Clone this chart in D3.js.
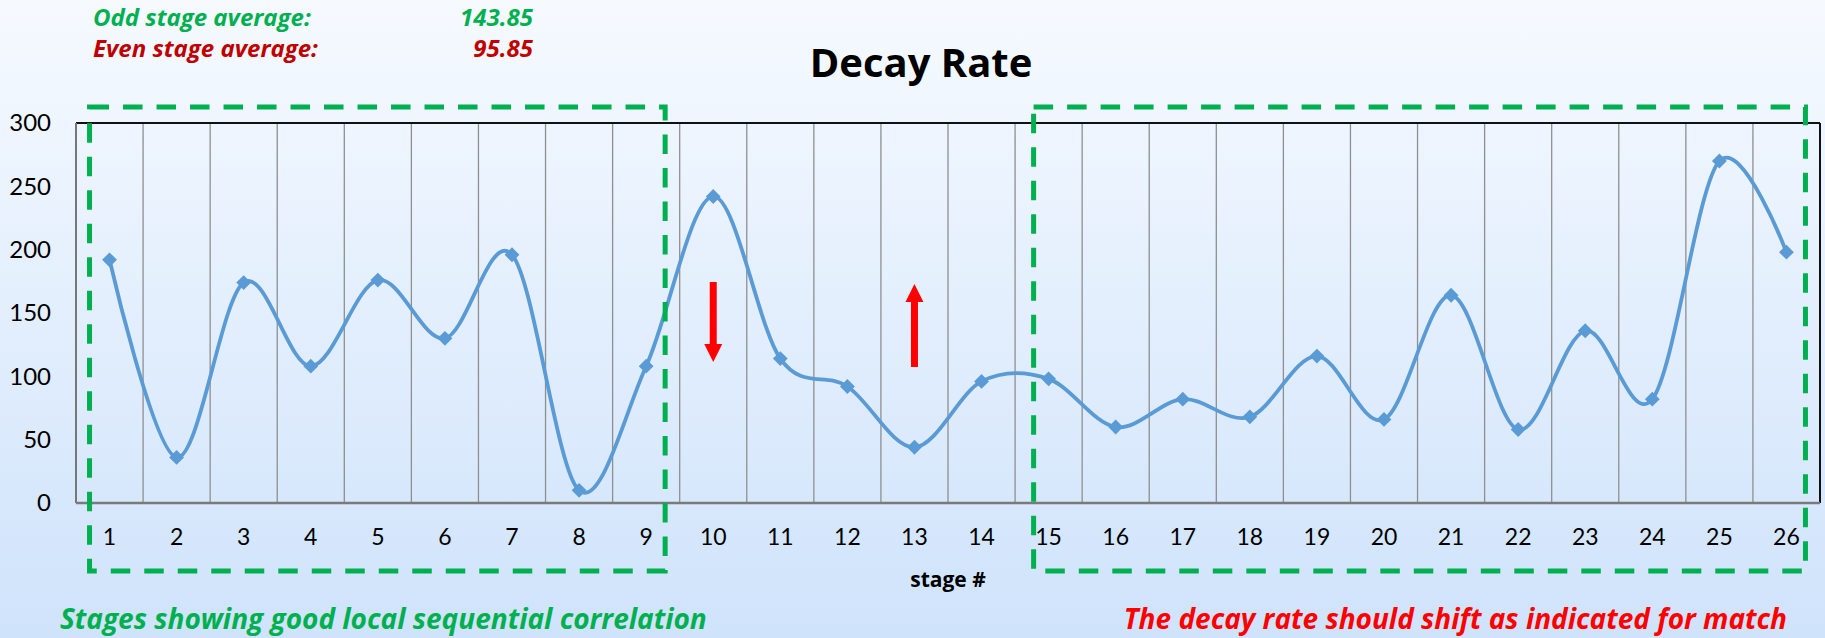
<!DOCTYPE html>
<html>
<head>
<meta charset="utf-8">
<script src="https://cdn.jsdelivr.net/npm/d3@7"></script>
<style>
    html, body { margin: 0; padding: 0; overflow: hidden; }
    svg { display: block; font-family: "Open Sans", Lato, sans-serif; }
</style>
</head>
<body>
<svg id="chart"></svg>
<script>
// stage numbers and decay rate per stage
const stages = d3.range(1, 27)
const decayRate = [192, 36, 174, 108, 176, 130, 196, 10, 108, 242, 114, 92, 44,
    96, 98, 60, 82, 68, 116, 66, 164, 58, 136, 82, 270, 198]
const yTicks = [0, 50, 100, 150, 200, 250, 300]

// annotation content
const summaryLabels = ["Odd stage average:", "Even stage average:"]
const summaryValues = ["143.85", "95.85"]
const boxRanges = [[1, 9], [15, 26]]
const shiftArrows = [{ stage: 10, dir: "down" }, { stage: 13, dir: "up" }]
const noteLeft = "Stages showing good local sequential correlation"
const noteRight = "The decay rate should shift as indicated for match"

let DecayChart = function () {
    this.width = 1825
    this.height = 638
    this.margin = { top: 123, right: 5, bottom: 135, left: 76 }

    this.svg = d3.select("#chart")
        .attr("width", this.width)
        .attr("height", this.height)

    this.setLayout()
    this.setScales()
    this.draw()
}

DecayChart.prototype.setLayout = function () {
    this.layout = {
        lineColor: "#5B9BD5",
        lineWidth: 3.8,
        gridColor: "#8f8f8f",
        green: "#00B050",
        darkRed: "#C00000",
        red: "#FF0000",
        textColor: "#000",
    }
}

DecayChart.prototype.setScales = function () {
    const m = this.margin
    this.x = d3.scaleBand()
        .domain(stages)
        .range([m.left, this.width - m.right])
    this.y = d3.scaleLinear()
        .domain([0, 300])
        .range([this.height - m.bottom, m.top])
}

DecayChart.prototype.cx = function (s) {
    return this.x(s) + this.x.bandwidth() / 2
}

DecayChart.prototype.draw = function () {
    this.addBackground()
    this.addGrid()
    this.addAxes()
    this.addLine()
    this.addTexts()
    this.addBoxes()
    this.addArrows()
}

DecayChart.prototype.addBackground = function () {
    const grad = this.svg.append("defs").append("linearGradient")
        .attr("id", "bgGrad")
        .attr("x1", 0).attr("y1", 0).attr("x2", 0).attr("y2", 1)
    grad.append("stop").attr("offset", "0%").attr("stop-color", "#F6FAFF")
    grad.append("stop").attr("offset", "100%").attr("stop-color", "#CFE3FB")

    this.svg.append("rect")
        .attr("width", this.width)
        .attr("height", this.height)
        .attr("fill", "url(#bgGrad)")
}

DecayChart.prototype.addGrid = function () {
    const [y0, y1] = this.y.range()
    this.svg.append("g")
        .selectAll("line")
        .data(stages.slice(1))
        .join("line")
        .attr("x1", d => this.x(d))
        .attr("x2", d => this.x(d))
        .attr("y1", y0)
        .attr("y2", y1)
        .attr("stroke", this.layout.gridColor)
        .attr("stroke-width", 1.3)
}

DecayChart.prototype.addAxes = function () {
    const [xl, xr] = this.x.range()
    const [yb, yt] = this.y.range()

    // frame
    this.svg.append("line")
        .attr("x1", xl).attr("x2", xr).attr("y1", yt).attr("y2", yt)
        .attr("stroke", "#111").attr("stroke-width", 2)
    this.svg.append("line")
        .attr("x1", xr).attr("x2", xr).attr("y1", yt).attr("y2", yb)
        .attr("stroke", "#111").attr("stroke-width", 2)
    this.svg.append("line")
        .attr("x1", xl).attr("x2", xl).attr("y1", yt).attr("y2", yb)
        .attr("stroke", "#777").attr("stroke-width", 2)
    this.svg.append("line")
        .attr("x1", xl).attr("x2", xr).attr("y1", yb).attr("y2", yb)
        .attr("stroke", "#7a7a7a").attr("stroke-width", 2.5)

    const yAxis = this.svg.append("g")
        .attr("transform", `translate(${xl - 25},0)`)
        .call(d3.axisLeft(this.y).tickValues(yTicks).tickSize(0).tickPadding(0))
    yAxis.select(".domain").remove()
    yAxis.selectAll("text")
        .attr("font-family", "Lato, sans-serif")
        .attr("font-size", 24)
        .attr("fill", this.layout.textColor)

    const xAxis = this.svg.append("g")
        .attr("transform", `translate(0,${yb})`)
        .call(d3.axisBottom(this.x).tickSize(0).tickPadding(26))
    xAxis.select(".domain").remove()
    xAxis.selectAll("text")
        .attr("font-family", "Lato, sans-serif")
        .attr("font-size", 23)
        .attr("fill", this.layout.textColor)

    this.svg.append("text")
        .attr("x", (xl + xr) / 2)
        .attr("y", 587)
        .attr("text-anchor", "middle")
        .attr("font-size", 21)
        .attr("font-weight", "bold")
        .text("stage #")
}

DecayChart.prototype.addLine = function () {
    const points = stages.map((s, i) => [this.cx(s), this.y(decayRate[i])])

    const line = d3.line().curve(d3.curveCatmullRom.alpha(0))
    this.svg.append("path")
        .attr("d", line(points))
        .attr("fill", "none")
        .attr("stroke", this.layout.lineColor)
        .attr("stroke-width", this.layout.lineWidth)

    const diamond = d3.symbol(d3.symbolSquare, 110)
    this.svg.append("g")
        .selectAll("path")
        .data(points)
        .join("path")
        .attr("d", diamond)
        .attr("transform", d => `translate(${d[0]},${d[1]}) rotate(45)`)
        .attr("fill", this.layout.lineColor)
}

DecayChart.prototype.addTexts = function () {
    const L = this.layout
    this.svg.append("text")
        .attr("x", 921).attr("y", 77)
        .attr("text-anchor", "middle")
        .attr("font-size", 40)
        .attr("font-weight", "bold")
        .text("Decay Rate")

    const colors = [L.green, L.darkRed]
    const rows = this.svg.append("g")
        .selectAll("g")
        .data(summaryLabels)
        .join("g")
        .attr("transform", (d, i) => `translate(0,${26 + i * 31})`)
        .attr("font-size", 24)
        .attr("font-weight", "bold")
        .attr("font-style", "italic")
        .attr("fill", (d, i) => colors[i])
    rows.append("text").attr("x", 93).text(d => d)
    rows.append("text").attr("x", 533).attr("text-anchor", "end")
        .text((d, i) => summaryValues[i])

    // bottom notes, kept just above the lower edge
    this.svg.append("text")
        .attr("x", 60).attr("y", 629)
        .attr("font-size", 28)
        .attr("font-weight", "bold")
        .attr("font-style", "italic")
        .attr("fill", L.green)
        .text(noteLeft)
    this.svg.append("text")
        .attr("x", 1787).attr("y", 629)
        .attr("text-anchor", "end")
        .attr("font-size", 28)
        .attr("font-weight", "bold")
        .attr("font-style", "italic")
        .attr("fill", L.red)
        .text(noteRight)
}

DecayChart.prototype.addBoxes = function () {
    const pad = [[20, 19], [15, 19]]
    this.svg.append("g")
        .selectAll("rect")
        .data(boxRanges)
        .join("rect")
        .attr("x", (d, i) => this.cx(d[0]) - pad[i][0])
        .attr("width", (d, i) => this.cx(d[1]) + pad[i][1] - this.cx(d[0]) + pad[i][0])
        .attr("y", 107)
        .attr("height", 464)
        .attr("fill", "none")
        .attr("stroke", this.layout.green)
        .attr("stroke-width", 5)
        .attr("stroke-dasharray", "19.5,14")
}

DecayChart.prototype.addArrows = function () {
    const red = this.layout.red
    const g = this.svg.append("g")
    shiftArrows.forEach(a => {
        const x = this.cx(a.stage)
        const top = a.dir === "down" ? 282 : 284
        const bottom = a.dir === "down" ? 362 : 367
        const head = 18
        if (a.dir === "down") {
            g.append("rect").attr("x", x - 3.5).attr("y", top).attr("width", 7).attr("height", bottom - top - head + 1).attr("fill", red)
            g.append("path").attr("d", `M${x - 9},${bottom - head}L${x + 9},${bottom - head}L${x},${bottom}Z`).attr("fill", red)
        } else {
            g.append("rect").attr("x", x - 3.5).attr("y", top + head - 1).attr("width", 7).attr("height", bottom - top - head + 1).attr("fill", red)
            g.append("path").attr("d", `M${x - 9},${top + head}L${x + 9},${top + head}L${x},${top}Z`).attr("fill", red)
        }
    })
}

new DecayChart()
</script>
</body>
</html>
